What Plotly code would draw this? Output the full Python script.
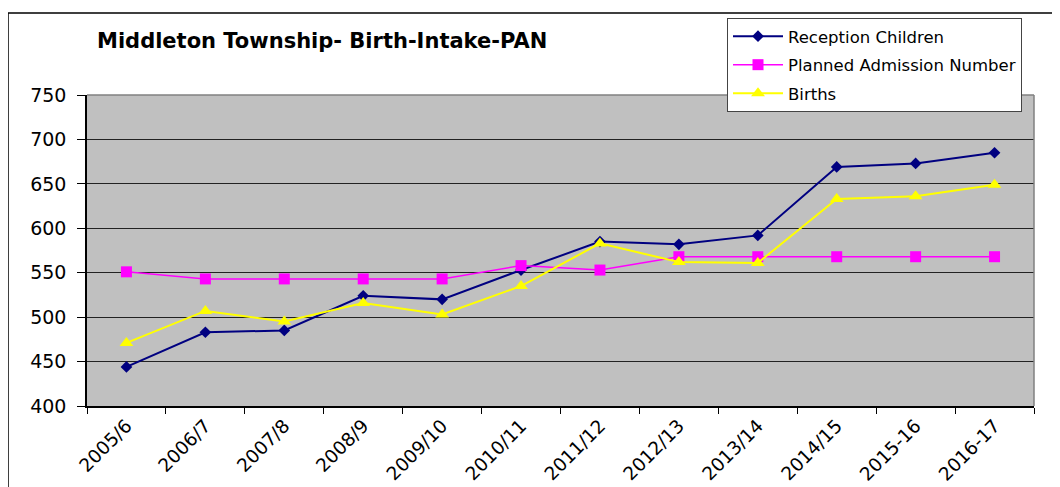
import plotly.graph_objects as go

categories = ["2005/6", "2006/7", "2007/8", "2008/9", "2009/10", "2010/11",
              "2011/12", "2012/13", "2013/14", "2014/15", "2015-16", "2016-17"]
reception = [444, 483, 485, 524, 520, 553, 585, 582, 592, 669, 673, 685]
pan = [551, 543, 543, 543, 543, 558, 553, 568, 568, 568, 568, 568]
births = [471, 507, 495, 516, 503, 535, 583, 562, 561, 633, 636, 649]
y_ticks = [400, 450, 500, 550, 600, 650, 700, 750]

FONT = "DejaVu Sans, Liberation Sans, Arial, sans-serif"

fig = go.Figure()
fig.add_trace(go.Scatter(x=categories, y=reception, name="Reception Children",
                         mode="lines+markers", legendgroup="a",
                         line=dict(color="#000080", width=2),
                         marker=dict(symbol="diamond", size=9, color="#000080")))
fig.add_trace(go.Scatter(x=categories, y=pan, name="Planned Admission Number",
                         mode="lines+markers", legendgroup="b",
                         line=dict(color="#FF00FF", width=1.5),
                         marker=dict(symbol="square", size=11, color="#FF00FF")))
fig.add_trace(go.Scatter(x=categories, y=births, name="Births",
                         mode="lines+markers", legendgroup="c",
                         line=dict(color="#FFFF00", width=2),
                         marker=dict(symbol="triangle-up", size=12, color="#FFFF00")))

# page has an 8px body margin: work in page coords and subtract OFF
OFF = 8
W, H = 1060 - OFF, 487 - OFF
L, T = 87 - OFF, 95 - OFF
pw, ph = 947, 311
R, B = W - L - pw, H - T - ph

def px(xpage):
    return (xpage - OFF - L) / pw

def py(ypage):
    return 1 - (ypage - OFF - T) / ph

fig.update_layout(
    width=W, height=H,
    margin=dict(l=L, r=R, t=T, b=B, autoexpand=False),
    paper_bgcolor="white",
    plot_bgcolor="#C0C0C0",
    font=dict(family=FONT, color="black", size=14),
    title=dict(text="<b>Middleton Township- Birth-Intake-PAN</b>",
               x=(97 - OFF) / W, xanchor="left", y=1 - (41 - OFF) / H, yanchor="middle",
               font=dict(size=21, family=FONT, color="black")),
    showlegend=True,
    legend=dict(x=px(727), y=py(18), xanchor="left", yanchor="top",
                bgcolor="white", bordercolor="#444444", borderwidth=1,
                font=dict(size=16.5, family=FONT, color="black"),
                tracegroupgap=4, itemwidth=50),
    xaxis=dict(type="category", tickangle=-45, showgrid=False, automargin=False,
               showline=True, linecolor="black", linewidth=1.5,
               ticks="outside", tickson="boundaries", ticklen=6, tickcolor="black",
               tickfont=dict(size=18.5, family=FONT), mirror=False,
               range=[-0.5, 11.5]),
    yaxis=dict(range=[400, 750], tickvals=y_ticks, showgrid=True, automargin=False,
               gridcolor="#222222", gridwidth=1, zeroline=False,
               showline=True, linecolor="black", linewidth=1.5,
               ticks="outside", ticklen=8, tickcolor="black",
               ticklabelstandoff=7,
               tickfont=dict(size=19, family=FONT)),
    shapes=[
        dict(type="rect", xref="paper", yref="paper",
             x0=px(OFF), y0=py(520), x1=px(1080), y1=py(13),
             line=dict(color="black", width=1.5), fillcolor="rgba(0,0,0,0)", layer="below"),
        dict(type="line", xref="paper", yref="paper",
             x0=1, y0=0, x1=1, y1=1, line=dict(color="#808080", width=1.5)),
        dict(type="line", xref="paper", yref="paper",
             x0=0, y0=1, x1=1, y1=1, line=dict(color="#808080", width=1.5)),
    ],
)

fig.write_html("out.html")
